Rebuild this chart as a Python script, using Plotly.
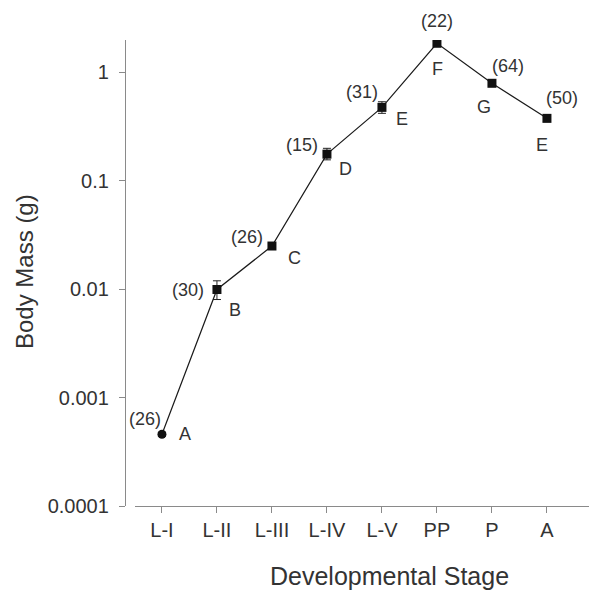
import math
import plotly.graph_objects as go

# ---- data ----
stages = ["L-I", "L-II", "L-III", "L-IV", "L-V", "PP", "P", "A"]
body_mass = [0.000458, 0.0099, 0.0249, 0.175, 0.472, 1.84, 0.787, 0.374]
err_plus = [0.00002, 0.0020, 0.0012, 0.023, 0.060, 0.07, 0.03, 0.025]
err_minus = [0.00002, 0.0019, 0.0012, 0.020, 0.056, 0.07, 0.03, 0.025]
sample_n = ["(26)", "(30)", "(26)", "(15)", "(31)", "(22)", "(64)", "(50)"]
group_letters = ["A", "B", "C", "D", "E", "F", "G", "E"]
y_tick_vals = [0.0001, 0.001, 0.01, 0.1, 1]
y_tick_text = ["0.0001", "0.001", "0.01", "0.1", "1"]

# ---- label placement (pixel offsets: right, down) ----
n_offsets = [(-17, -15), (-29, 1), (-25, -9), (-25, -9), (-20, -15), (0, -22), (16, -17), (15, -20)]
letter_offsets = [(23, 0), (18, 21), (23, 12), (19, 15), (20, 12), (1, 26), (-8, 24), (-5, 27)]

FONT = "Liberation Sans, Arial, sans-serif"
TXT = "#333333"
AX = "#8a8a8a"

# page body has an 8px default margin; compensate so the plot lands where intended
PAD = 8
L, T, B = 125 - PAD, 40 - PAD, 85
W, H = 597 - PAD, 591 - PAD
plot_w = W - L          # 472
plot_h = H - T - B      # 466

symbols = ["circle"] + ["square"] * (len(stages) - 1)

fig = go.Figure()
fig.add_trace(go.Scatter(
    x=stages, y=body_mass, mode="lines+markers",
    line=dict(color="#1a1a1a", width=1.2),
    marker=dict(symbol=symbols, size=9, color="#111111"),
    error_y=dict(type="data", symmetric=False, array=err_plus, arrayminus=err_minus,
                 color="#222222", thickness=1, width=4),
    showlegend=False,
))

annotations = []
for i, s in enumerate(stages):
    ly = math.log10(body_mass[i])
    dx, dy = n_offsets[i]
    annotations.append(dict(x=s, y=ly, xref="x", yref="y", text=sample_n[i], showarrow=False,
                            xanchor="center", yanchor="middle",
                            xshift=dx, yshift=-dy, font=dict(family=FONT, size=18, color=TXT)))
    dx, dy = letter_offsets[i]
    annotations.append(dict(x=s, y=ly, xref="x", yref="y", text=group_letters[i], showarrow=False,
                            xanchor="center", yanchor="middle",
                            xshift=dx, yshift=-dy, font=dict(family=FONT, size=18, color=TXT)))

# axis titles (target pixel centres in the page: (389, 576) and (24, 272))
annotations.append(dict(text="Developmental Stage", xref="paper", yref="paper",
                        x=(389 - 125) / plot_w, y=(506 - 576) / plot_h, showarrow=False,
                        xanchor="center", yanchor="middle",
                        font=dict(family=FONT, size=25, color=TXT)))
annotations.append(dict(text="Body Mass (g)", xref="paper", yref="paper", textangle=-90,
                        x=(24 - 125) / plot_w, y=(506 - 272) / plot_h, showarrow=False,
                        xanchor="center", yanchor="middle",
                        font=dict(family=FONT, size=24, color=TXT)))

fig.update_layout(
    width=W, height=H,
    margin=dict(l=L, r=0, t=T, b=B, autoexpand=False),
    paper_bgcolor="white", plot_bgcolor="white",
    font=dict(family=FONT, color=TXT),
    annotations=annotations,
    xaxis=dict(
        domain=[10 / plot_w, 1], range=[-0.49, 7.91],
        showline=True, linecolor=AX, linewidth=1.3,
        ticks="outside", ticklen=6, tickcolor=AX, tickwidth=1.3,
        showgrid=False, zeroline=False, automargin=False,
        tickfont=dict(family=FONT, size=20, color=TXT),
    ),
    yaxis=dict(
        type="log", range=[-4, 0.295], anchor="free", position=0,
        showline=True, linecolor=AX, linewidth=1.3,
        ticks="outside", ticklen=6, tickcolor=AX, tickwidth=1.3,
        tickvals=y_tick_vals, ticktext=y_tick_text,
        showgrid=False, zeroline=False, automargin=False,
        ticklabelstandoff=6,
        tickfont=dict(family=FONT, size=20, color=TXT),
    ),
)

fig.write_html("out.html")
